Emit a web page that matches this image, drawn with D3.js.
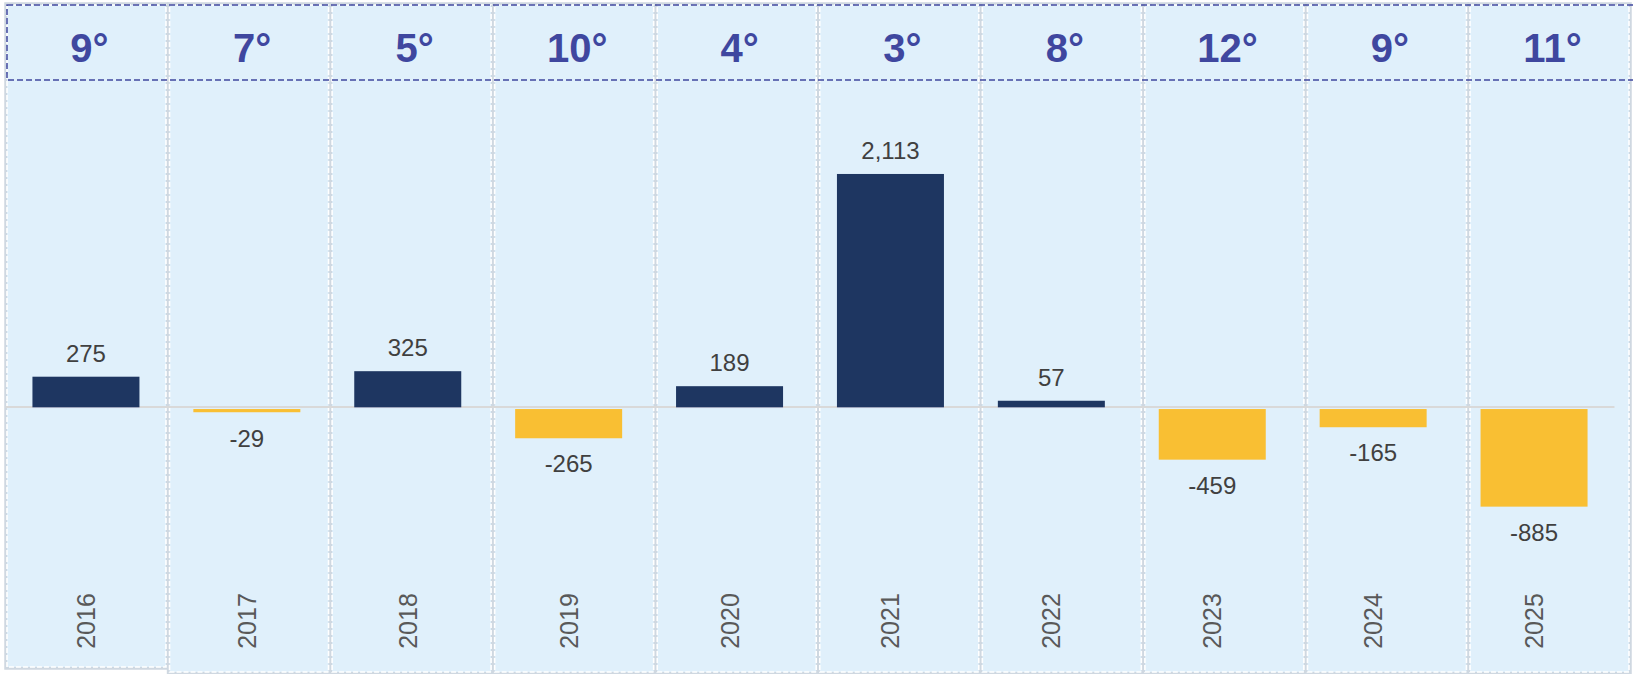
<!DOCTYPE html>
<html>
<head>
<meta charset="utf-8">
<script src="https://cdn.jsdelivr.net/npm/d3@7"></script>
<style>
  html, body { margin: 0; padding: 0; background: #ffffff; }
  svg { display: block; font-family: "Liberation Sans", Arial, sans-serif; }
</style>
</head>
<body>
<svg id="chart" width="1633" height="674"></svg>
<script>
// data
var years = ["2016", "2017", "2018", "2019", "2020", "2021", "2022", "2023", "2024", "2025"];
var values = [275, -29, 325, -265, 189, 2113, 57, -459, -165, -885];
var temps = [9, 7, 5, 10, 4, 3, 8, 12, 9, 11];

var width = 1633, height = 674;
var svg = d3.select("#chart");

var navy = "#1e3661", gold = "#f9bf33", headCol = "#3f479f";
var fmt = d3.formatLocale({decimal: ".", thousands: ",", grouping: [3], currency: ["", ""], minus: "-"}).format(",");

// column panels (slightly wider pitch than bars)
var colX = d3.scaleBand().domain(years).range([7, 7 + 162.2 * 10]).paddingInner(0.022);
// bars
var x = d3.scaleBand().domain(years).range([5.5, 1614.5]).paddingInner(0.335).paddingOuter(0.1675);
var y = d3.scaleLinear().domain([-2366, 2965]).range([668, 80]);

var rows = years.map(function(d, i){ return {year: d, value: values[i], temp: temps[i]}; });

// panel shadows + fills
var cols = svg.append("g").attr("class", "cols");
cols.selectAll(".shadow").data(rows).enter().append("rect")
    .attr("class", "shadow")
    .attr("x", d => colX(d.year) - 1)
    .attr("y", 4)
    .attr("width", colX.bandwidth() + 2)
    .attr("height", (d, i) => i == 0 ? 664 : 669)
    .attr("fill", "none")
    .attr("stroke", "#cfd8e1")
    .attr("stroke-width", 3.5);
cols.selectAll(".panel").data(rows).enter().append("rect")
    .attr("class", "panel")
    .attr("x", d => colX(d.year))
    .attr("y", 5)
    .attr("width", colX.bandwidth())
    .attr("height", (d, i) => i == 0 ? 662 : 667)
    .attr("fill", "#e0f0fb")
    .attr("stroke", "#ffffff")
    .attr("stroke-width", 1.6)
    .attr("stroke-dasharray", "5,2");

// header band
svg.append("rect")
    .attr("x", 7).attr("y", 5)
    .attr("width", 1640).attr("height", 75)
    .attr("fill", "none")
    .attr("stroke", headCol)
    .attr("stroke-width", 1.5)
    .attr("stroke-dasharray", "6,3");

svg.append("g").selectAll("text").data(rows).enter().append("text")
    .attr("x", d => colX(d.year) + colX.bandwidth() / 2 + 3)
    .attr("y", 62)
    .attr("text-anchor", "middle")
    .attr("font-size", 40)
    .attr("font-weight", "bold")
    .attr("fill", headCol)
    .text(d => d.temp + "°");

// zero line
svg.append("line")
    .attr("x1", 5.5).attr("x2", 1614.5)
    .attr("y1", y(0)).attr("y2", y(0))
    .attr("stroke", "#d9d9d9")
    .attr("stroke-width", 2);

// bars
svg.append("g").selectAll("rect").data(rows).enter().append("rect")
    .attr("x", d => x(d.year))
    .attr("y", d => d.value >= 0 ? y(d.value) : y(0) + 2)
    .attr("width", x.bandwidth())
    .attr("height", d => Math.max(2, Math.abs(y(d.value) - y(0))))
    .attr("fill", d => d.value >= 0 ? navy : gold);

// little rule under the positive bars
svg.append("g").selectAll("line").data(rows.filter(d => d.value >= 0)).enter().append("line")
    .attr("x1", d => x(d.year)).attr("x2", d => x(d.year) + x.bandwidth())
    .attr("y1", y(0) + 0.5).attr("y2", y(0) + 0.5)
    .attr("stroke", "#9aa3ba").attr("stroke-width", 1);

// value labels
svg.append("g").selectAll("text").data(rows).enter().append("text")
    .attr("x", d => x(d.year) + x.bandwidth() / 2)
    .attr("y", d => d.value >= 0 ? y(d.value) - 15 : Math.max(y(d.value), y(0) + 4) + 36)
    .attr("text-anchor", "middle")
    .attr("font-size", 24)
    .attr("fill", "#404040")
    .text(d => fmt(d.value));

// year labels, rotated
svg.append("g").selectAll("text").data(rows).enter().append("text")
    .attr("transform", d => "translate(" + [x(d.year) + x.bandwidth() / 2 + 9, 621] + ") rotate(-90)")
    .attr("text-anchor", "middle")
    .attr("font-size", 25)
    .attr("fill", "#595959")
    .text(d => d.year);
</script>
</body>
</html>
